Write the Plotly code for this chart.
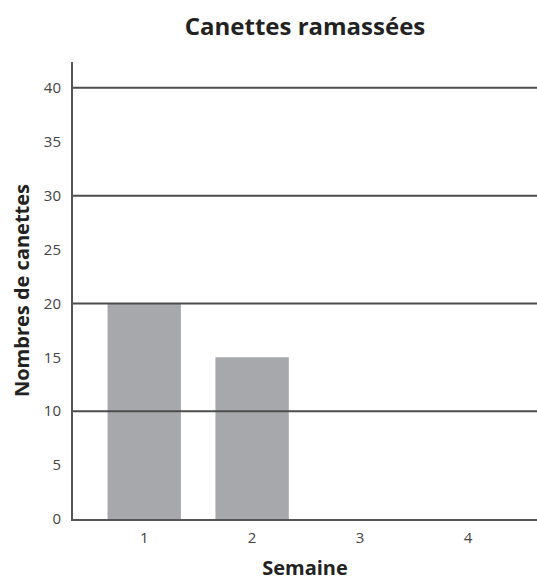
import plotly.graph_objects as go

# Data
semaines = [1, 2, 3, 4]
canettes = [20, 15, 0, 0]
y_ticks = [0, 5, 10, 15, 20, 25, 30, 35, 40]
grid_values = [10, 20, 30, 40]

FONT = "Open Sans, Liberation Sans, sans-serif"

fig = go.Figure()
fig.add_trace(go.Bar(
    x=semaines,
    y=canettes,
    width=0.68,
    marker=dict(color="#a7a8ab", line=dict(width=0)),
    hoverinfo="x+y",
))

# Horizontal reference lines drawn over the bars
for v in grid_values:
    fig.add_shape(type="line", xref="paper", yref="y", x0=0, x1=1, y0=v, y1=v,
                  line=dict(color="#4d4d4d", width=2), layer="above")

fig.update_layout(
    width=537,
    height=581,
    margin=dict(l=73, r=0, t=62, b=62),
    paper_bgcolor="white",
    plot_bgcolor="white",
    showlegend=False,
    title=dict(
        text="<b>Canettes ramassées</b>",
        x=(73 + 537) / 2 / 537, xanchor="center",
        y=1 - 27 / 581, yanchor="middle",
        font=dict(family=FONT, size=24, color="#222222"),
    ),
    xaxis=dict(
        range=[0.34, 4.64],
        tickvals=semaines,
        ticktext=[str(s) for s in semaines],
        showgrid=False,
        zeroline=False,
        showline=True,
        linecolor="#555555",
        linewidth=2,
        ticks="",
        ticklabelstandoff=4,
        automargin=False,
        tickfont=dict(family=FONT, size=15, color="#444444"),
        title=dict(text="<b>Semaine</b>", standoff=26,
                   font=dict(family=FONT, size=20, color="#222222")),
        layer="above traces",
    ),
    yaxis=dict(
        range=[0, 42.4],
        tickvals=y_ticks,
        showgrid=False,
        zeroline=False,
        showline=True,
        linecolor="#555555",
        linewidth=2,
        ticks="",
        ticklabelstandoff=7,
        automargin=False,
        tickfont=dict(family=FONT, size=15, color="#444444"),
        title=dict(text="<b>Nombres de canettes</b>", standoff=9,
                   font=dict(family=FONT, size=20, color="#222222")),
        layer="above traces",
    ),
)

fig.write_html("out.html")
